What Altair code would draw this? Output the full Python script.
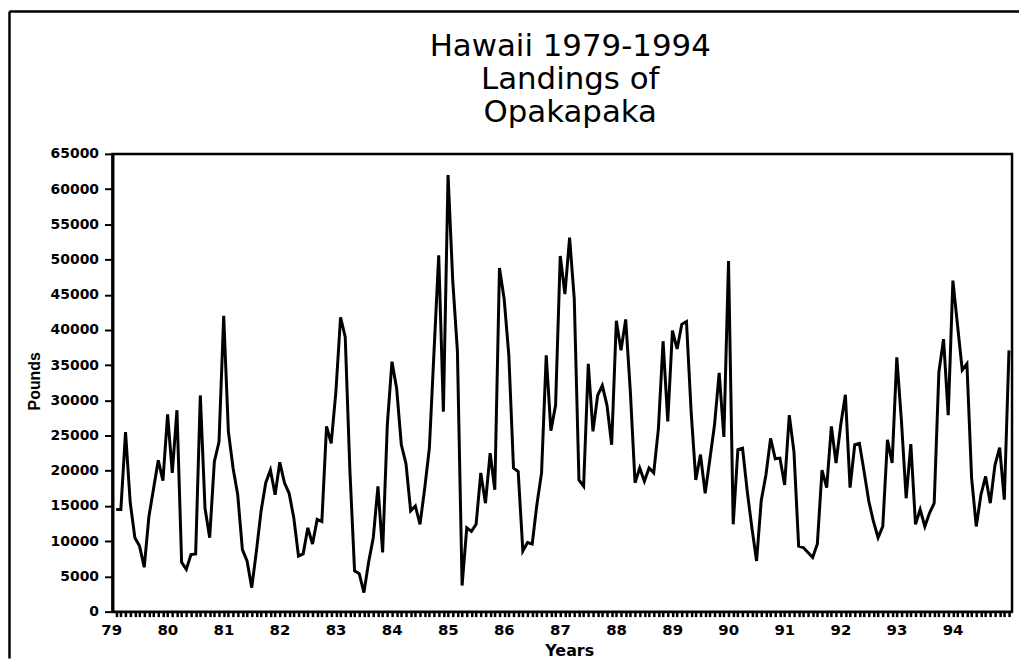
import altair as alt
import pandas as pd

# Monthly landings (pounds)
y1979 = [14500, 14500, 25500, 15500, 10500, 9300, 6300, 13500, 17500, 21500, 18600, 28000]
y1980 = [19700, 28600, 7000, 6000, 8100, 8200, 30700, 14700, 10500, 21300, 24100, 42000]
y1981 = [25600, 20400, 16600, 8800, 7200, 3400, 8600, 14300, 18300, 20100, 16600, 21200]
y1982 = [18300, 16800, 13300, 7900, 8200, 11900, 9600, 13100, 12800, 26300, 23900, 31200]
y1983 = [41800, 39000, 20000, 5800, 5400, 2700, 7000, 10500, 17800, 8400, 26500, 35500]
y1984 = [31700, 23700, 21000, 14300, 15000, 12400, 17500, 23200, 37000, 50600, 28400, 62000]
y1985 = [47000, 37000, 3700, 11900, 11400, 12400, 19700, 15400, 22500, 17300, 48800, 44400]
y1986 = [36400, 20400, 19900, 8600, 9800, 9600, 15200, 19700, 36400, 25700, 29300, 50500]
y1987 = [45100, 53100, 44400, 18700, 17800, 35200, 25600, 30700, 32100, 29300, 23700, 41300]
y1988 = [37100, 41500, 31200, 18300, 20400, 18500, 20400, 19700, 26000, 38400, 27000, 39900]
y1989 = [37300, 40800, 41200, 28400, 18700, 22300, 16800, 21600, 26500, 33900, 24800, 49800]
y1990 = [12400, 23000, 23200, 17100, 11900, 7200, 15800, 19400, 24600, 21700, 21800, 18000]
y1991 = [27900, 22700, 9300, 9100, 8400, 7700, 9600, 20100, 17600, 26300, 21100, 26500]
y1992 = [30800, 17600, 23700, 23900, 19900, 15700, 12800, 10500, 12100, 24400, 21100, 36100]
y1993 = [27000, 16100, 23800, 12400, 14500, 12100, 14000, 15400, 34000, 38700, 27900, 47000]
y1994 = [40600, 34300, 35200, 19000, 12100, 16600, 19200, 15400, 20800, 23300, 15900, 37100]

year_lists = [y1979, y1980, y1981, y1982, y1983, y1984, y1985, y1986,
              y1987, y1988, y1989, y1990, y1991, y1992, y1993, y1994]
start_years = list(range(79, 95))
y_tick_values = list(range(0, 65001, 5000))
title_lines = ["Hawaii 1979-1994", "Landings of", "Opakapaka"]

rows = []
for yr, vals in zip(start_years, year_lists):
    for m, v in enumerate(vals):
        rows.append({"t": yr + m / 12.0, "pounds": v})
df = pd.DataFrame(rows)

month_ticks = [round(79 + k / 12.0, 6) for k in range(192)]

FONT = "DejaVu Sans"

line = alt.Chart(df).mark_line(color="black", strokeWidth=3, strokeJoin="miter").encode(
    x=alt.X(
        "t:Q",
        scale=alt.Scale(domain=[78.934, 94.971], nice=False, zero=False),
        axis=alt.Axis(
            values=month_ticks,
            labelExpr="abs(datum.value - round(datum.value)) < 0.001 ? '' + round(datum.value) : ''",
            labelOverlap=False,
            labelFlush=False,
            labelFont=FONT,
            labelFontWeight="bold",
            labelFontSize=15,
            labelColor="black",
            labelPadding=6,
            labelOffset=-5,
            tickColor="black",
            tickSize=5,
            tickWidth=2.5,
            domainColor="black",
            domainWidth=2.5,
            grid=False,
            title="Years",
            titleFont=FONT,
            titleFontWeight="bold",
            titleFontSize=16,
            titleColor="black",
            titleX=459,
            titleY=44,
            titleAlign="center",
            titleBaseline="alphabetic",
        ),
    ),
    y=alt.Y(
        "pounds:Q",
        scale=alt.Scale(domain=[0, 65000], nice=False),
        axis=alt.Axis(
            values=y_tick_values,
            format="d",
            labelFont=FONT,
            labelFontWeight="bold",
            labelFontSize=14,
            labelColor="black",
            labelPadding=6,
            tickColor="black",
            tickSize=8,
            tickWidth=2,
            domainColor="black",
            domainWidth=3,
            grid=False,
            title="Pounds",
            titleFont="Liberation Sans",
            titleFontWeight="bold",
            titleFontSize=16,
            titleColor="black",
            titleAngle=270,
            titleX=-78,
            titleY=228,
            titleAlign="center",
            titleBaseline="middle",
        ),
    ),
)

frame_df = pd.DataFrame({"k": [0]})
frame_top = alt.Chart(frame_df).mark_rule(color="black", strokeWidth=2.5).encode(
    x=alt.value(-103.5), x2=alt.value(911), y=alt.value(-143)
)
frame_left = alt.Chart(frame_df).mark_rule(color="black", strokeWidth=2.5).encode(
    x=alt.value(-103.5), y=alt.value(-143), y2=alt.value(507)
)

title_text = alt.Chart(frame_df).mark_text(
    text=title_lines,
    font=FONT,
    fontSize=31,
    fontWeight="normal",
    color="black",
    align="center",
    baseline="alphabetic",
    lineHeight=33,
).encode(x=alt.value(460), y=alt.value(-98))

chart = (
    alt.layer(line, frame_top, frame_left, title_text)
    .properties(
        width=904,
        height=460,
        autosize="none",
        padding={"left": 105, "top": 145, "right": 7, "bottom": 47},
        background="white",
    )
    .configure_view(stroke="black", strokeWidth=2.5)
)

chart.save("out.html", embed_options={"renderer": "svg", "actions": False})
